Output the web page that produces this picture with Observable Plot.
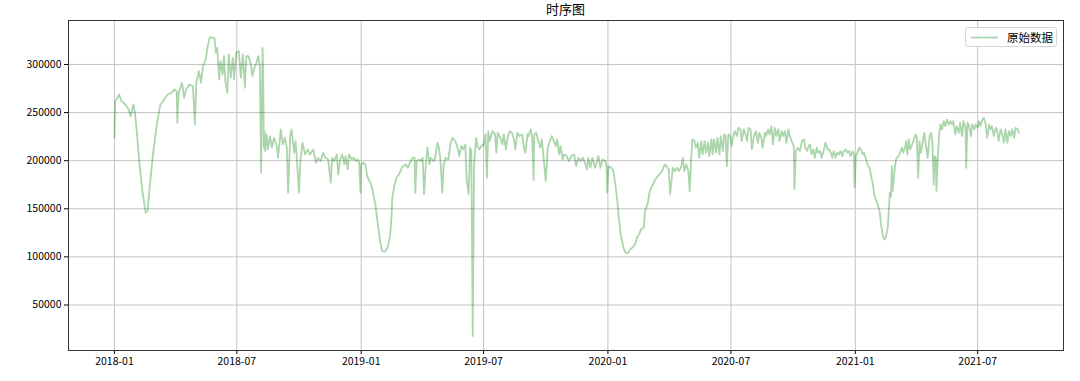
<!DOCTYPE html>
<html><head><meta charset="utf-8">
<script src="https://cdn.jsdelivr.net/npm/d3@7"></script>
<script src="https://cdn.jsdelivr.net/npm/@observablehq/plot@0.6"></script>
<style>
body{margin:0;background:#fff;font-family:"Noto Sans CJK SC","DejaVu Sans",sans-serif;}
#wrap{position:relative;width:1080px;height:381px;overflow:hidden;}
#title{position:absolute;top:0;left:465px;width:201px;text-align:center;font-size:13px;line-height:18px;color:#000;}
#legend{position:absolute;left:965px;top:27px;width:92px;height:20px;border:1px solid #d5d5d5;border-radius:3px;background:rgba(255,255,255,0.85);box-sizing:border-box;}
#legend svg{position:absolute;left:5px;top:4px;}
#legend .tx{position:absolute;left:41px;top:0;font-size:11.5px;line-height:18px;color:#000;white-space:nowrap;}
#chart{position:absolute;left:0;top:0;}
</style></head>
<body>
<div id="wrap">
  <div id="chart"></div>
  <div id="title"></div>
  <div id="legend"><svg width="27" height="11"><line x1="0" y1="5.5" x2="27" y2="5.5" stroke="#008000" stroke-opacity="0.33" stroke-width="1.8"></line></svg><div class="tx"></div></div>
</div>
<script>
const titleText = "时序图";
const seriesName = "原始数据";
const startDate = "2018-01-01";
const xTickLabels = ["2018-01","2018-07","2019-01","2019-07","2020-01","2020-07","2021-01","2021-07"];
const yTickValues = [50000,100000,150000,200000,250000,300000];

// days since startDate
const dayIndex = [
0,1,3,7,10,14,18,21,24,28,30,33,37,42,46,49,52,57,62,66,68,72,75,79,84,89,92,93,95,100,103,106,111,116,119,121,125,128,131,135,138,141,145,148,150,152,155,157,160,162,164,167,169,172,175,177,180,184,187,190,193,195,
198,202,204,207,210,213,215,217,219,220,221,222,223,225,227,230,233,236,240,242,246,249,252,255,257,260,262,266,268,270,273,275,278,282,286,289,294,298,301,305,309,312,316,320,322,325,329,331,334,337,340,342,345,347,351,354,357,360,362,364,365,368,371,374,377,380,383,386,389,393,396,400,404,
408,410,411,414,417,421,425,427,431,434,437,441,444,445,447,451,454,456,458,461,463,466,468,472,474,478,480,482,485,487,490,494,497,500,504,507,510,513,516,519,521,524,526,528,530,532,535,537,540,544,546,549,551,553,555,559,563,565,567,571,574,576,579,582,585,588,591,593,596,599,603,606,608,611,613,
614,616,618,620,621,624,627,630,632,634,638,641,644,647,650,653,655,658,660,663,665,669,672,676,680,683,686,690,693,695,699,701,704,707,711,714,716,719,722,726,728,729,731,735,738,741,744,746,749,753,756,760,763,766,770,773,776,779,783,785,789,792,794,798,800,804,808,810,813,815,818,820,822,
826,829,832,835,838,841,843,846,849,851,853,855,858,860,863,865,868,870,873,875,878,880,883,885,887,890,892,895,897,900,902,904,906,908,911,913,916,918,921,923,926,928,931,933,936,938,941,943,946,949,952,954,957,959,962,964,967,969,972,974,977,979,982,984,987,989,992,994,997,999,1002,1005,1006,1008,1011,1014,1017,1020,1022,1025,
1027,1029,1031,1034,1036,1039,1041,1044,1046,1049,1052,1055,1057,1060,1062,1064,1067,1069,1072,1074,1077,1079,1082,1084,1087,1089,1092,1094,1095,1097,1099,1102,1104,1107,1109,1112,1114,1117,1119,1122,1124,1127,1129,1132,1134,1137,1139,1141,1144,1146,1147,1149,1150,1151,1153,1155,1157,1160,1162,1165,1167,1170,1171,1173,1175,1177,1180,1182,1185,1187,1189,1191,1193,1196,1198,1201,1203,1206,1208,1210,1212,1213,1215,1216,1218,1220,1222,1224,1227,1229,1232,1234,1237,
1239,1241,1244,1246,1249,1251,1254,1256,1259,1260,1262,1264,1267,1269,1272,1274,1277,1279,1281,1284,1286,1289,1291,1294,1296,1298,1301,1304,1306,1308,1311,1313,1316,1318,1321,1323,1326,1328,1331,1333,1336,1338
];

const values = [
224000,262000,263600,268800,262000,260000,256700,253000,246000,258400,251500,230700,196100,165000,145900,147600,171900,206500,234200,251500,258400,261900,265400,268800,270600,274000,272300,239400,270600,281000,265400,274000,279200,277500,237700,281000,293100,281000,298300,305200,319000,328400,327700,327700,312100,317300,284400,303500,289600,308700,282700,270600,310400,286200,306900,284400,312100,313900,286200,310400,275800,308700,
308700,300000,287900,296500,301700,308700,298300,187500,317300,293100,213500,230700,210000,227300,211700,225600,213500,223800,215200,203000,232500,216900,223800,213500,166700,225600,232500,208200,220400,199600,166700,199600,218600,206500,211700,206500,211700,197800,203000,199600,208200,203000,201300,177100,203000,199600,206500,185700,201300,206500,196100,204800,190900,206500,201300,203000,199600,201300,197800,166700,196100,197800,196100,184000,178800,175300,165000,154600,137200,116500,106100,105400,109500,
123400,144200,161500,173600,182300,185700,192600,194300,196100,192600,197800,203000,203000,166700,199600,201300,199600,203000,165000,199600,213500,196100,203000,199600,201300,218600,213500,203000,166700,196100,203000,201300,217000,223800,220400,215200,204800,215200,211700,217000,180500,165000,213500,210000,17800,196100,223800,215200,211700,217000,215200,227300,182300,230700,220400,230700,227300,208200,229000,223800,217000,227300,211700,225600,230700,229000,222100,211700,229000,225600,227300,213500,208200,227300,225600,
229000,232500,223800,180000,227300,229000,220400,213500,222100,210000,178800,213500,220400,225600,220400,215200,222100,206500,215200,201300,206500,204800,199600,204800,206500,194300,203000,199600,203000,199600,190900,203000,192600,203000,192600,199600,204800,192600,201300,199600,194300,166700,194300,192600,189200,175300,158000,140700,123400,109500,104300,104300,107800,109500,113000,119900,123400,128600,130300,147600,156300,168400,171900,177100,180500,184000,187500,189200,194300,196100,192600,190900,165000,
192600,189200,192600,189200,192600,203000,189200,196100,189200,168400,199600,222100,220400,213500,218600,203000,220400,206500,220400,208200,218600,204800,222100,206500,222100,208200,223800,206500,225600,210000,227300,225600,194300,227300,225600,215200,227300,230700,225600,234200,232500,220400,232500,229000,220400,234200,232500,211700,225600,230700,218600,229000,223800,213500,229000,225600,232500,227300,235900,216900,234200,225600,232500,220400,230700,225600,230700,218600,232500,225600,220400,215200,170200,210000,213500,210000,220400,222100,213500,210000,
215200,216900,206500,211700,203000,213500,208200,210000,203000,210000,218600,211700,211700,208200,203000,210000,203000,208200,206500,210000,204800,210000,211700,208200,210000,204800,210000,206500,171900,204800,208200,213500,211700,206500,208200,201300,196100,192600,185700,175300,164900,158000,154500,147600,133800,121700,118200,119900,130300,152800,166700,163200,194300,168400,182300,196100,203000,204800,208200,213500,208200,215200,220400,206500,222100,211700,216900,220400,227300,223800,182300,220400,208200,220400,229000,213500,203000,225600,229000,220400,175300,204800,203000,168400,203000,227300,237700,232500,241100,235900,242800,237700,241100,
237700,241100,227300,235900,229000,239400,225600,241100,234200,192600,239400,237700,225600,237700,232500,237700,234200,241100,235900,242800,244600,237700,223800,237700,232500,235900,225600,234200,230700,220400,232500,229000,218600,232500,218600,230700,225600,232500,223800,234200,232500,229000
];

document.getElementById("title").textContent = titleText;
document.querySelector("#legend .tx").textContent = seriesName;

const start = d3.utcParse("%Y-%m-%d")(startDate);
const data = dayIndex.map((d, i) => ({date: d3.utcDay.offset(start, d), value: values[i]}));
const xTicks = xTickLabels.map(d3.utcParse("%Y-%m"));
const grid = "#c4c4c4";

const chart = Plot.plot({
  width: 1080,
  height: 381,
  marginLeft: 68,
  marginRight: 17,
  marginTop: 20,
  marginBottom: 31,
  style: {fontFamily: '"Noto Sans CJK SC","DejaVu Sans",sans-serif', fontSize: "10.5px", color: "#000", background: "transparent"},
  x: {type: "utc", domain: [d3.utcDay.offset(start, -68), d3.utcDay.offset(start, 1404)]},
  y: {domain: [2700, 345700]},
  marks: [
    Plot.gridX(xTicks, {stroke: grid, strokeOpacity: 1, strokeWidth: 1}),
    Plot.gridY(yTickValues, {stroke: grid, strokeOpacity: 1, strokeWidth: 1}),
    Plot.line(data, {x: "date", y: "value", stroke: "#008000", strokeOpacity: 0.33, strokeWidth: 1.8}),
    Plot.axisX(xTicks, {tickFormat: d3.utcFormat("%Y-%m"), tickSize: 4, tickPadding: 3, label: null}),
    Plot.axisY(yTickValues, {tickFormat: d => String(d), tickSize: 4, tickPadding: 3, label: null}),
    Plot.frame({stroke: "#333", strokeWidth: 1})
  ]
});
document.getElementById("chart").appendChild(chart);
</script>
</body></html>
